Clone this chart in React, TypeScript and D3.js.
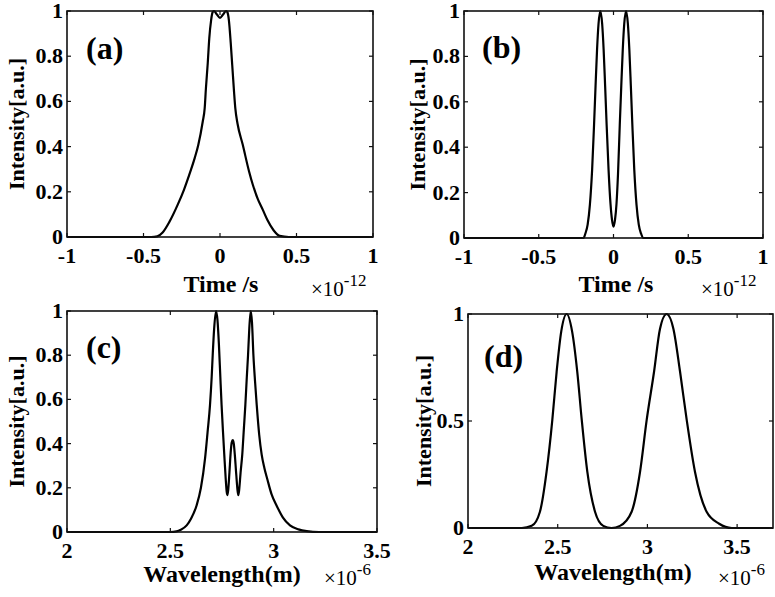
import React from "react";
import * as d3 from "d3";

// Panel (a): time (x1e-12 s) vs intensity
const timeA = [-1, -0.45, -0.41, -0.375, -0.33, -0.277, -0.235, -0.194, -0.165, -0.142, -0.113, -0.1, -0.092, -0.08, -0.07, -0.058, -0.048, -0.04, -0.02, 0, 0.02, 0.04, 0.048, 0.058, 0.07, 0.08, 0.092, 0.1, 0.115, 0.148, 0.19, 0.215, 0.246, 0.28, 0.31, 0.35, 0.39, 0.45, 1];
const intA = [0, 0, 0.003, 0.02, 0.068, 0.142, 0.21, 0.289, 0.35, 0.407, 0.51, 0.57, 0.658, 0.77, 0.88, 0.96, 0.995, 1.0, 0.985, 0.97, 0.985, 1.0, 0.995, 0.96, 0.86, 0.76, 0.64, 0.57, 0.5, 0.41, 0.29, 0.23, 0.17, 0.12, 0.075, 0.03, 0.005, 0, 0];

// Panel (b)
const timeB = [-1, -0.2, -0.188, -0.173, -0.158, -0.143, -0.13, -0.12, -0.11, -0.1, -0.088, -0.076, -0.066, -0.056, -0.046, -0.033, -0.02, -0.01, 0, 0.01, 0.02, 0.03, 0.042, 0.052, 0.062, 0.072, 0.084, 0.096, 0.106, 0.116, 0.126, 0.139, 0.154, 0.169, 0.184, 0.2, 1];
const intB = [0, 0, 0.02, 0.059, 0.146, 0.3, 0.5, 0.67, 0.83, 0.945, 1, 0.945, 0.83, 0.67, 0.5, 0.3, 0.15, 0.08, 0.05, 0.08, 0.15, 0.28, 0.5, 0.67, 0.83, 0.945, 1, 0.945, 0.83, 0.67, 0.5, 0.3, 0.146, 0.059, 0.02, 0, 0];

// Panel (c): wavelength (x1e-6 m)
const waveC = [2, 2.5, 2.53, 2.55, 2.579, 2.6, 2.627, 2.648, 2.668, 2.68, 2.692, 2.7, 2.705, 2.712, 2.721, 2.728, 2.735, 2.742, 2.748, 2.755, 2.761, 2.768, 2.773, 2.776, 2.78, 2.786, 2.792, 2.797, 2.802, 2.807, 2.812, 2.819, 2.825, 2.829, 2.833, 2.84, 2.848, 2.856, 2.863, 2.87, 2.876, 2.882, 2.889, 2.895, 2.902, 2.91, 2.918, 2.93, 2.942, 2.955, 2.969, 2.99, 3.014, 3.045, 3.079, 3.12, 3.16, 3.22, 3.5];
const intC = [0, 0, 0.003, 0.01, 0.03, 0.06, 0.12, 0.2, 0.333, 0.45, 0.575, 0.7, 0.8, 0.92, 1, 0.96, 0.85, 0.7, 0.575, 0.45, 0.35, 0.24, 0.18, 0.167, 0.19, 0.27, 0.36, 0.405, 0.416, 0.4, 0.35, 0.26, 0.19, 0.167, 0.19, 0.27, 0.35, 0.47, 0.575, 0.7, 0.8, 0.92, 1, 0.95, 0.8, 0.68, 0.575, 0.44, 0.35, 0.29, 0.24, 0.17, 0.12, 0.065, 0.03, 0.012, 0.004, 0, 0];

// Panel (d)
const waveD = [2, 2.3, 2.355, 2.401, 2.438, 2.47, 2.494, 2.52, 2.55, 2.58, 2.609, 2.634, 2.665, 2.708, 2.754, 2.8, 2.847, 2.912, 2.959, 2.996, 3.037, 3.07, 3.107, 3.145, 3.182, 3.219, 3.265, 3.33, 3.4, 3.47, 3.7];
const intD = [0, 0, 0.01, 0.076, 0.263, 0.505, 0.73, 0.92, 1, 0.92, 0.73, 0.505, 0.263, 0.076, 0.01, 0, 0.01, 0.076, 0.263, 0.505, 0.73, 0.93, 1, 0.93, 0.73, 0.505, 0.263, 0.076, 0.02, 0, 0];

const timeTicks = [-1, -0.5, 0, 0.5, 1];
const waveTicksC = [2, 2.5, 3, 3.5];
const waveTicksD = [2, 2.5, 3, 3.5];
const yTicksFine = [0, 0.2, 0.4, 0.6, 0.8, 1];
const yTicksCoarse = [0, 0.5, 1];

const SERIF: React.CSSProperties = { fontFamily: "Liberation Serif, Times New Roman, serif" };

type PanelProps = {
  xs: number[]; ys: number[]; xDomain: [number, number]; xTicks: number[]; yTicks: number[];
  left: number; right: number; top: number; bottom: number;
  label: string; labelX: number; labelY: number;
  xLabel: string; xLabelX: number; xLabelY: number;
  expo: string; expoX: number; expoY: number;
  yLabelX: number;
};

function Panel(p: PanelProps) {
  const x = d3.scaleLinear().domain(p.xDomain).range([p.left, p.right]);
  const y = d3.scaleLinear().domain([0, 1]).range([p.bottom, p.top]);
  const pts = p.xs.map((v, i) => [v, p.ys[i]] as [number, number]);
  const line = d3.line<[number, number]>().x(d => x(d[0])).y(d => y(d[1])).curve(d3.curveMonotoneX);
  const tl = 4;
  const fmt = (v: number) => String(v);
  return (
    <g style={SERIF}>
      <path d={line(pts) || ""} fill="none" stroke="#000" strokeWidth={2.2} strokeLinejoin="round" />
      <rect x={p.left} y={p.top} width={p.right - p.left} height={p.bottom - p.top} fill="none" stroke="#111" strokeWidth={1.6} />
      {p.xTicks.map(t => (
        <g key={"xt" + t}>
          <line x1={x(t)} x2={x(t)} y1={p.bottom} y2={p.bottom - tl} stroke="#111" strokeWidth={1.2} />
          <line x1={x(t)} x2={x(t)} y1={p.top} y2={p.top + tl} stroke="#111" strokeWidth={1.2} />
          <text x={x(t)} y={p.bottom + 26} textAnchor="middle" fontWeight="bold" fontSize={22}>{fmt(t)}</text>
        </g>
      ))}
      {p.yTicks.map(t => (
        <g key={"yt" + t}>
          <line x1={p.left} x2={p.left + tl} y1={y(t)} y2={y(t)} stroke="#111" strokeWidth={1.2} />
          <line x1={p.right} x2={p.right - tl} y1={y(t)} y2={y(t)} stroke="#111" strokeWidth={1.2} />
          <text x={p.left - 4} y={y(t) + 7} textAnchor="end" fontWeight="bold" fontSize={22}>{fmt(t)}</text>
        </g>
      ))}
      <text x={p.labelX} y={p.labelY} fontWeight="bold" fontSize={32}>{p.label}</text>
      <text x={p.xLabelX} y={p.xLabelY} textAnchor="middle" fontWeight="bold" fontSize={24}>{p.xLabel}</text>
      <text x={p.expoX} y={p.expoY} fontSize={21}>
        ×10<tspan dy={-10} fontSize={17}>{p.expo}</tspan>
      </text>
      <text transform={`translate(${p.yLabelX},${(p.top + p.bottom) / 2}) rotate(-90)`} textAnchor="middle" fontWeight="bold" fontSize={22}>Intensity[a.u.]</text>
    </g>
  );
}

export default function App() {
  return (
    <svg width={775} height={597} style={{ position: "absolute", left: 0, top: 0, background: "#fff" }}>
      <Panel xs={timeA} ys={intA} xDomain={[-1, 1]} xTicks={timeTicks} yTicks={yTicksFine}
        left={67} right={373} top={11} bottom={237}
        label="(a)" labelX={86} labelY={59}
        xLabel="Time /s" xLabelX={221} xLabelY={292}
        expo="-12" expoX={311} expoY={296} yLabelX={24} />
      <Panel xs={timeB} ys={intB} xDomain={[-1, 1]} xTicks={timeTicks} yTicks={yTicksFine}
        left={464} right={763} top={11} bottom={238}
        label="(b)" labelX={482} labelY={58}
        xLabel="Time /s" xLabelX={616} xLabelY={292}
        expo="-12" expoX={701} expoY={296} yLabelX={425} />
      <Panel xs={waveC} ys={intC} xDomain={[2, 3.5]} xTicks={waveTicksC} yTicks={yTicksFine}
        left={67} right={377} top={311} bottom={532}
        label="(c)" labelX={86} labelY={358}
        xLabel="Wavelength(m)" xLabelX={222} xLabelY={582}
        expo="-6" expoX={324} expoY={585} yLabelX={24} />
      <Panel xs={waveD} ys={intD} xDomain={[2, 3.7]} xTicks={waveTicksD} yTicks={yTicksCoarse}
        left={468} right={773} top={314} bottom={528}
        label="(d)" labelX={484} labelY={367}
        xLabel="Wavelength(m)" xLabelX={613} xLabelY={580}
        expo="-6" expoX={718} expoY={585} yLabelX={431} />
    </svg>
  );
}
